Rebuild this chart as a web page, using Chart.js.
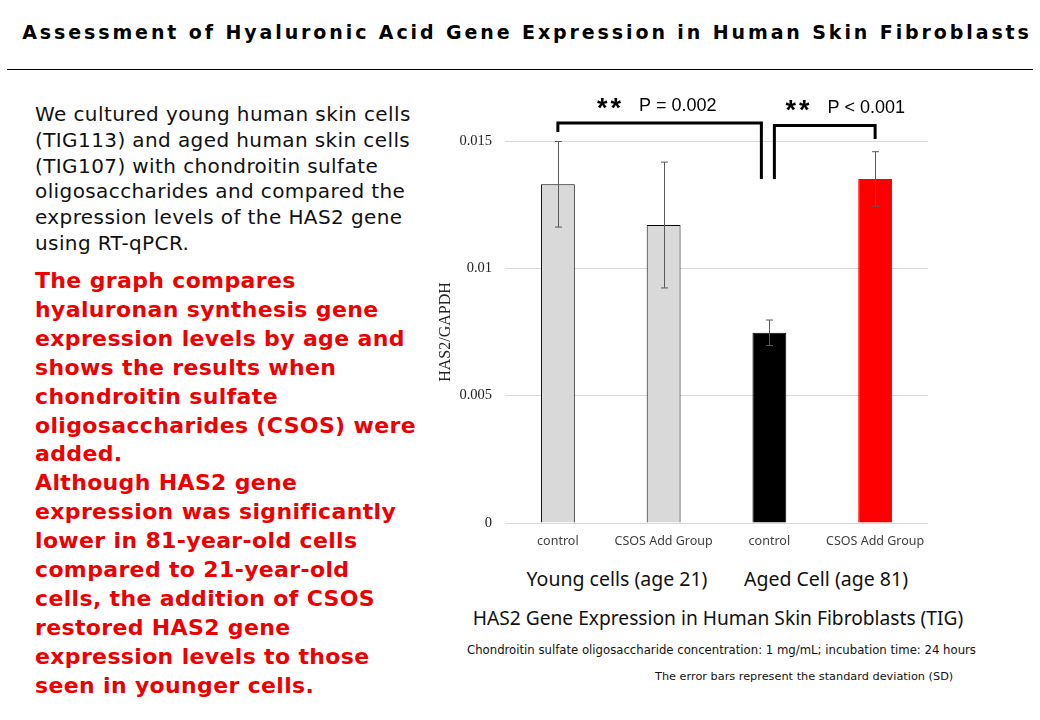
<!DOCTYPE HTML>
<html>
<head>
<meta charset="utf-8">
<script src="https://cdn.jsdelivr.net/npm/chart.js"></script>
<style>
    body { margin: 0; background: #fff; width: 1040px; height: 720px; overflow: hidden; position: relative; font-family: 'DejaVu Sans', sans-serif; }
    .abs { position: absolute; white-space: nowrap; }
    #title { left: 7px; width: 1040px; top: 21px; text-align: center; font-weight: bold; font-size: 19px; letter-spacing: 2.9px; color: #000; }
    #rule { left: 7px; top: 69px; width: 1026px; height: 1px; background: #000; }
    #intro { left: 35px; top: 102px; font-size: 20px; letter-spacing: 0.4px; line-height: 25.8px; color: #111; }
    #note { left: 35px; top: 267px; font-size: 22px; letter-spacing: 0.35px; line-height: 28.9px; font-weight: bold; color: #ee0000; }
    #chartBox { left: 430px; top: 80px; }
    .grp { top: 565px; font-family: 'Noto Sans', sans-serif; font-size: 19.5px; color: #111; transform: translateX(-50%); }
    #cap { left: 718px; top: 604px; font-family: 'Noto Sans', sans-serif; font-size: 19.2px; color: #111; transform: translateX(-50%); }
    #cond { left: 467px; top: 643px; font-size: 11.7px; color: #111; }
    #sd { left: 655px; top: 670px; font-size: 11.3px; color: #111; }
</style>
</head>
<body>

<div id="title" class="abs">Assessment of Hyaluronic Acid Gene Expression in Human Skin Fibroblasts</div>
<div id="rule" class="abs"></div>

<div id="intro" class="abs">We cultured young human skin cells<br>(TIG113) and aged human skin cells<br>(TIG107) with chondroitin sulfate<br>oligosaccharides and compared the<br>expression levels of the HAS2 gene<br>using RT-qPCR.</div>

<div id="note" class="abs">The graph compares<br>hyaluronan synthesis gene<br>expression levels by age and<br>shows the results when<br>chondroitin sulfate<br>oligosaccharides (CSOS) were<br>added.<br>Although HAS2 gene<br>expression was significantly<br>lower in 81-year-old cells<br>compared to 21-year-old<br>cells, the addition of CSOS<br>restored HAS2 gene<br>expression levels to those<br>seen in younger cells.</div>

<div id="chartBox" class="abs"><canvas id="myChart" width="540" height="480"></canvas></div>

<div class="abs grp" style="left:617px">Young cells (age 21)</div>
<div class="abs grp" style="left:826px">Aged Cell (age 81)</div>
<div id="cap" class="abs">HAS2 Gene Expression in Human Skin Fibroblasts (TIG)</div>
<div id="cond" class="abs">Chondroitin sulfate oligosaccharide concentration: 1 mg/mL; incubation time: 24 hours</div>
<div id="sd" class="abs">The error bars represent the standard deviation (SD)</div>

<script type="text/javascript">
    // data
    const labels = ['control', 'CSOS Add Group', 'control', 'CSOS Add Group'];
    const has2 = [0.0133, 0.0117, 0.00747, 0.01351];
    const sd = [0.00168, 0.00247, 0.00050, 0.00107];
    const barColors = ['#d9d9d9', '#d9d9d9', '#000000', '#ff0000'];
    const yTicks = [0, 0.005, 0.01, 0.015];

    // significance brackets: from category, to category, top level, leg ends
    const brackets = [
        { from: 0, to: 2, shiftFrom: 0, shiftTo: -8, top: 0.01571, endFrom: 0.01535, endTo: 0.01351, stars: '**', p: 'P = 0.002', textOff: 39 },
        { from: 2, to: 3, shiftFrom: 5, shiftTo: 0, top: 0.01561, endFrom: 0.01351, endTo: 0.01508, stars: '**', p: 'P < 0.001', textOff: 11 }
    ];

    const extras = {
        id: 'extras',
        afterDatasetsDraw(chart) {
            const ctx = chart.ctx;
            const x = chart.scales.x, y = chart.scales.y;
            ctx.save();

            // error bars
            ctx.strokeStyle = '#595959';
            ctx.lineWidth = 1;
            for (let i = 0; i < has2.length; i++) {
                let px = Math.round(x.getPixelForValue(i)) + 0.5;
                let top = y.getPixelForValue(has2[i] + sd[i]);
                let bot = y.getPixelForValue(has2[i] - sd[i]);
                ctx.beginPath();
                ctx.moveTo(px, top); ctx.lineTo(px, bot);
                ctx.moveTo(px - 3.5, top); ctx.lineTo(px + 3.5, top);
                ctx.moveTo(px - 3.5, bot); ctx.lineTo(px + 3.5, bot);
                ctx.stroke();
            }

            // brackets + p values
            ctx.strokeStyle = '#000';
            ctx.lineWidth = 3;
            ctx.lineJoin = 'miter';
            brackets.forEach(b => {
                let x1 = x.getPixelForValue(b.from) + b.shiftFrom;
                let x2 = x.getPixelForValue(b.to) + b.shiftTo;
                let yt = y.getPixelForValue(b.top);
                ctx.beginPath();
                ctx.moveTo(x1, y.getPixelForValue(b.endFrom));
                ctx.lineTo(x1, yt);
                ctx.lineTo(x2, yt);
                ctx.lineTo(x2, y.getPixelForValue(b.endTo));
                ctx.stroke();

                let tx = x1 + b.textOff;
                ctx.fillStyle = '#000';
                ctx.textBaseline = 'alphabetic';
                ctx.textAlign = 'left';
                ctx.font = 'bold 27px "Liberation Sans"';
                // each star drawn on its own for wider spacing
                for (let k = 0; k < b.stars.length; k++) {
                    ctx.fillText(b.stars[k], tx + k * 13.5, yt - 20 + 14);
                }
                ctx.font = '18px "Liberation Sans"';
                ctx.fillText(b.p, tx + 42, yt - 12);
            });
            ctx.restore();
        }
    };

    const data = {
        labels: labels,
        datasets: [{
            data: has2,
            backgroundColor: barColors,
            borderColor: ['#000', '#000', '#000', '#ff0000'],
            borderWidth: 1,
            barPercentage: 0.32,
            categoryPercentage: 1.0
        }]
    };

    const config = {
        type: 'bar',
        data: data,
        plugins: [extras],
        options: {
            responsive: false,
            animation: false,
            devicePixelRatio: 1,
            layout: { padding: { left: 0, right: 42, top: 61, bottom: 0 } },
            plugins: { legend: { display: false }, tooltip: { enabled: false } },
            scales: {
                x: {
                    grid: { display: false, drawTicks: false },
                    border: { display: false },
                    ticks: { color: '#404040', font: { family: 'Noto Sans', size: 12.5 }, padding: 11, maxRotation: 0 },
                    afterFit: (s) => { s.height = 37; }
                },
                y: {
                    min: 0,
                    max: 0.015,
                    border: { display: false },
                    grid: { color: '#d9d9d9', drawTicks: false },
                    afterBuildTicks: (s) => { s.ticks = yTicks.map(v => ({ value: v })); },
                    ticks: {
                        color: '#222',
                        padding: 13,
                        font: { family: 'Liberation Serif', size: 14.5 },
                        callback: (v) => String(Number(v.toFixed(3)))
                    },
                    title: {
                        display: true,
                        text: 'HAS2/GAPDH',
                        color: '#222',
                        font: { family: 'Liberation Serif', size: 16 },
                        padding: { top: 6, bottom: 0 }
                    },
                    afterFit: (s) => { s.width = 75; }
                }
            }
        }
    };

    const myChart = new Chart(document.getElementById('myChart'), config);
</script>
</body>
</html>
